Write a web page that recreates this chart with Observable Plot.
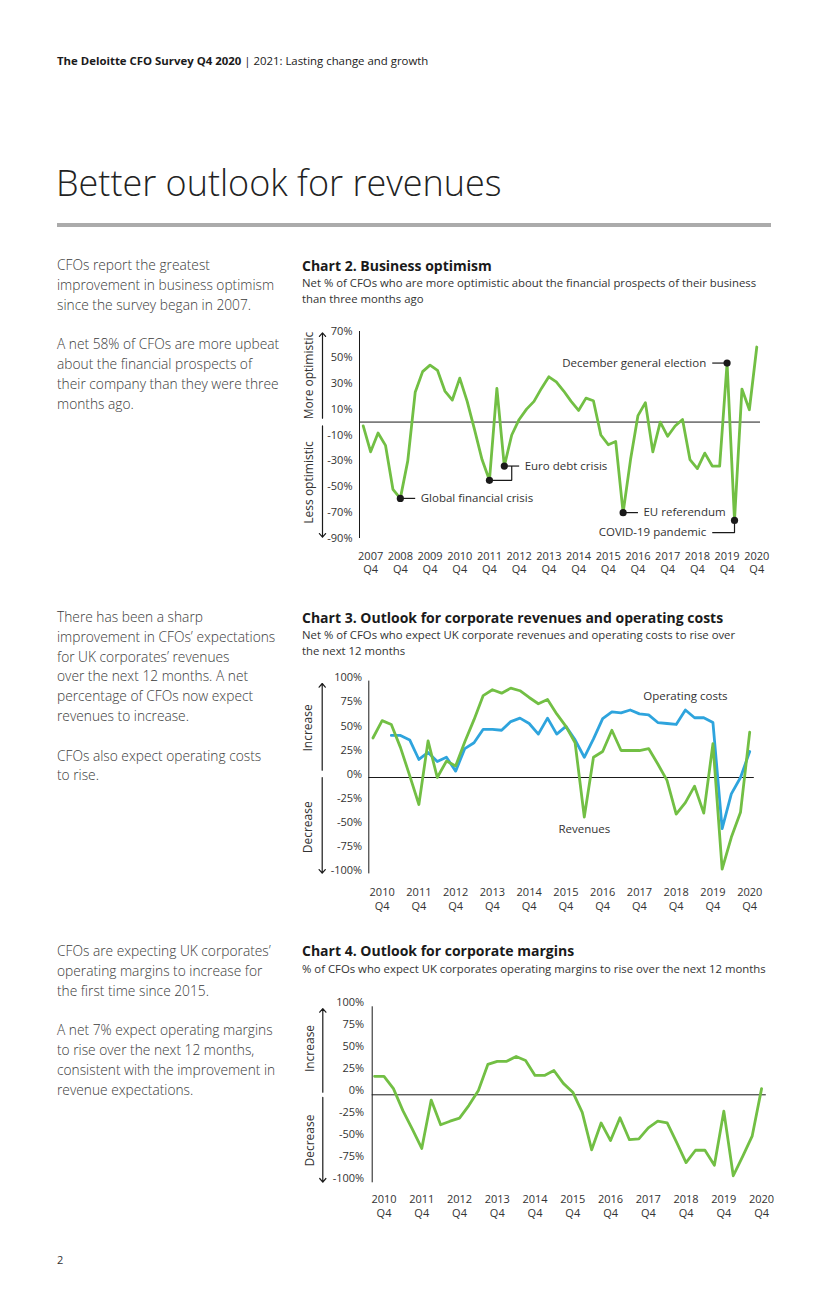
<!DOCTYPE html>
<html lang="en">
<head>
<meta charset="utf-8">
<title>Better outlook for revenues</title>
<script src="https://cdn.jsdelivr.net/npm/d3@7"></script>
<script src="https://cdn.jsdelivr.net/npm/@observablehq/plot@0.6"></script>
<style>
html,body{margin:0;padding:0;background:#fff;}
#page{position:relative;width:827px;height:1290px;overflow:hidden;font-family:"Open Sans",sans-serif;color:#333;}
.a{position:absolute;white-space:nowrap;}
.hdr{left:57px;top:53px;font-size:11.4px;line-height:16px;color:#1a1a1a;}
.hdr b{font-weight:700;}
.title{left:56px;top:161px;font-size:36px;font-weight:300;line-height:44px;color:#222;}
.rule{position:absolute;left:57px;top:223px;width:714px;height:3.5px;background:#ababab;}
.body{left:57px;font-size:13.75px;line-height:19.8px;font-weight:300;color:#3a3a3a;}
.ct{left:302px;font-size:14px;font-weight:700;color:#1a1a1a;line-height:18px;}
.cs{left:302px;font-size:11.35px;line-height:16px;color:#333;}
.chart{position:absolute;left:300px;}
.pg{left:57px;top:1252px;font-size:11px;line-height:16px;color:#333;}
</style>
</head>
<body>
<div id="page">
  <div class="a hdr"><b>The Deloitte CFO Survey Q4 2020</b> | 2021: Lasting change and growth</div>
  <div class="a title">Better outlook for revenues</div>
  <div class="rule"></div>

  <div class="a body" style="top:255px">CFOs report the greatest<br>improvement in business optimism<br>since the survey began in 2007.<br><br>A net 58% of CFOs are more upbeat<br>about the financial prospects of<br>their company than they were three<br>months ago.</div>
  <div class="a body" style="top:607px">There has been a sharp<br>improvement in CFOs’ expectations<br>for UK corporates’ revenues<br>over the next 12 months. A net<br>percentage of CFOs now expect<br>revenues to increase.<br><br>CFOs also expect operating costs<br>to rise.</div>
  <div class="a body" style="top:941px">CFOs are expecting UK corporates’<br>operating margins to increase for<br>the first time since 2015.<br><br>A net 7% expect operating margins<br>to rise over the next 12 months,<br>consistent with the improvement in<br>revenue expectations.</div>

  <div class="a ct" style="top:257px">Chart 2. Business optimism</div>
  <div class="a cs" style="top:275px">Net % of CFOs who are more optimistic about the financial prospects of their business<br>than three months ago</div>
  <div class="chart" id="c2" style="top:320px"></div>

  <div class="a ct" style="top:609px">Chart 3. Outlook for corporate revenues and operating costs</div>
  <div class="a cs" style="top:627px">Net % of CFOs who expect UK corporate revenues and operating costs to rise over<br>the next 12 months</div>
  <div class="chart" id="c3" style="top:670px"></div>

  <div class="a ct" style="top:942px">Chart 4. Outlook for corporate margins</div>
  <div class="a cs" style="top:961px">% of CFOs who expect UK corporates operating margins to rise over the next 12 months</div>
  <div class="chart" id="c4" style="top:990px"></div>

  <div class="a pg">2</div>
</div>
<script>
// ---------- DATA ----------
// Chart 2: business optimism, quarterly from 2007 Q3 to 2020 Q4 (net %)
const optimismStart = [2007, 3];
const optimism = [-3,-23,-8.5,-18,-52,-59,-30,23,39,44,
                  40,24,17,34,16,-6,-29,-45,26,-34,
                  -10,2,10,16,26,35,31,24,16,9,
                  18.5,16.5,-10,-17.5,-15,-70,-29,5,15,-23,
                  0,-11,-3,2,-29,-36,-24,-34,-34,45.6,
                  -76,25.5,9.5,58];
const optimismTicks = [70,50,30,10,-10,-30,-50,-70,-90];
const optimismEvents = [
  {label: "Global financial crisis", dots: [5], path: [[5,"v"],[7,"v"]], at: 7, anchor: "start"},
  {label: "Euro debt crisis", dots: [17,19], path: [[17,"v17"],[20,"v17"],[20,"v19"]], path2: [[19,"v"],[21,"v"]], at: 21, anchor: "start"},
  {label: "EU referendum", dots: [35], path: [[35,"v"],[37,"v"]], at: 37, anchor: "start"},
  {label: "December general election", dots: [49], path: [[47,"v"],[49,"v"]], at: 47, anchor: "end"},
  {label: "COVID-19 pandemic", dots: [50], path: [[50,"v"],[50,-85.5],[47,-85.5]], at: 47, anchor: "end", labelY: -85.5}
];

// Chart 3: revenues and operating costs, quarterly from 2010 Q3 to 2020 Q4 (net %)
const outlookStart = [2010, 3];
const revenues = [41,59,55,31,2,-28,38,0,17,12,
                  37,60,85,91,87.5,92.7,90,83,76.5,81,
                  66,53,36,-41,21,27,49,28,28,28,
                  30,14,-3,-38,-26,-9,-37,35,-95,-62,
                  -36,47];
const operatingCosts = [null,null,43.6,43.6,39,18.7,26,16.6,21,6.6,
                  30,36,50,50,49,58,61.6,56,45,61.6,
                  45,53,39,21,40,61,68,67,70,66,
                  65,57,56,55,70,62,62,57,-53,-17,
                  0,27];
// Chart 4: operating margins, quarterly from 2010 Q3 to 2020 Q4 (net %)
const margins = [21,21,7,-18,-39,-61,-6,-34,-30,-26.5,
                 -12,5,34.5,38,38,43.6,39,22,22,27.6,
                 13,3,-20,-62.5,-32,-52,-26,-51,-50,-37.5,
                 -30,-32,-54,-77,-63,-63,-80,-18.6,-92,-70,
                 -47,7];
const pctTicks = [100,75,50,25,0,-25,-50,-75,-100];

const GREEN = "#72bf44", BLUE = "#2ea4dd", INK = "#1a1a1a", TXT = "#333";

// ---------- HELPERS ----------
function quarterLabels([y0, q0], n) {
  return Array.from({length: n}, (_, i) => {
    const k = q0 - 1 + i;
    return {year: y0 + Math.floor(k / 4), q: (k % 4) + 1};
  });
}
function q4Ticks(qs) { return qs.map((d, i) => d.q === 4 ? i : null).filter(d => d !== null); }
const baseStyle = {fontFamily: "'Open Sans', sans-serif", fontSize: "11px", color: TXT, background: "transparent", overflow: "visible"};

function sideMarks(x0, arrows, labels, arrowDx, labelDx) {
  return [
    Plot.arrow(arrows, {x1: () => x0, x2: () => x0, y1: "y1", y2: "y2", dx: arrowDx, stroke: INK, strokeWidth: 1.2, headLength: 6, headAngle: 80}),
    Plot.text(labels, {x: () => x0, y: "y", text: "t", rotate: -90, dx: labelDx, fontSize: 12, fill: TXT})
  ];
}

// ---------- CHART 2 ----------
{
  const qs = quarterLabels(optimismStart, optimism.length);
  const data = optimism.map((v, i) => ({i, v}));
  const x0 = -0.5;
  const resolve = (pt, q) => [pt[0], pt[1] === "v" ? optimism[q] : (typeof pt[1] === "string" ? optimism[+pt[1].slice(1)] : pt[1])];
  const paths = [];
  optimismEvents.forEach((e, k) => {
    const q = e.dots[e.dots.length - 1];
    e.path.forEach(p => { const [x, y] = resolve(p, e.dots[0]); paths.push({x, y, g: k + "a"}); });
    if (e.path2) e.path2.forEach(p => { const [x, y] = resolve(p, q); paths.push({x, y, g: k + "b"}); });
  });
  const dots = optimismEvents.flatMap(e => e.dots.map(q => ({x: q, y: optimism[q]})));
  const labels = optimismEvents.map(e => ({x: e.at, y: e.labelY ?? optimism[e.dots[e.dots.length - 1]], t: e.label, anchor: e.anchor}));

  const chart = Plot.plot({
    width: 470, height: 262,
    marginLeft: 59, marginRight: 10, marginTop: 11, marginBottom: 44,
    x: {domain: [x0, optimism.length - 0.5], label: null},
    y: {domain: [-90, 70], label: null},
    style: baseStyle,
    marks: [
      Plot.ruleY([0], {stroke: INK, strokeWidth: 1}),
      Plot.ruleX([x0], {y1: -90, y2: 70, stroke: INK, strokeWidth: 1}),
      Plot.axisY({ticks: optimismTicks, tickFormat: d => d + "%", tickSize: 0, tickPadding: 7, label: null, fontSize: 11}),
      Plot.axisX({ticks: q4Ticks(qs), tickFormat: i => `${qs[i].year}\nQ${qs[i].q}`, tickSize: 0, tickPadding: 12, label: null, lineHeight: 1.22, fontSize: 11}),
      ...sideMarks(x0, [{y1: 3, y2: 69}, {y1: -3, y2: -89}], [{y: 36, t: "More optimistic"}, {y: -46.7, t: "Less optimistic"}], -37, -50),
      Plot.line(data, {x: "i", y: "v", stroke: GREEN, strokeWidth: 2.8}),
      Plot.line(paths, {x: "x", y: "y", z: "g", stroke: INK, strokeWidth: 1.2, curve: "linear", strokeLinejoin: "miter", strokeLinecap: "butt"}),
      Plot.dot(dots, {x: "x", y: "y", r: 3.6, fill: INK}),
      Plot.text(labels.filter(d => d.anchor === "start"), {x: "x", y: "y", text: "t", textAnchor: "start", dx: 5.5, fontSize: 11.5, fill: TXT}),
      Plot.text(labels.filter(d => d.anchor === "end"), {x: "x", y: "y", text: "t", textAnchor: "end", dx: -6, fontSize: 11.5, fill: TXT})
    ]
  });
  document.getElementById("c2").append(chart);
}

// ---------- CHART 3 ----------
{
  const qs = quarterLabels(outlookStart, revenues.length);
  const rev = revenues.map((v, i) => ({i, v}));
  const cost = operatingCosts.map((v, i) => ({i, v}));
  const x0 = -0.45;
  const seriesLabels = [{x: 34, y: 84, t: "Operating costs"}, {x: 23, y: -54, t: "Revenues"}];
  const chart = Plot.plot({
    width: 470, height: 245,
    marginLeft: 68.3, marginRight: 16.2, marginTop: 10.6, marginBottom: 41.6,
    x: {domain: [x0, 41.5], label: null},
    y: {domain: [-100, 100], label: null},
    style: baseStyle,
    marks: [
      Plot.ruleY([0], {stroke: INK, strokeWidth: 1}),
      Plot.ruleX([x0], {y1: -100, y2: 100, stroke: INK, strokeWidth: 1}),
      Plot.axisY({ticks: pctTicks, tickFormat: d => d + "%", tickSize: 0, tickPadding: 6.6, dy: -3.3, label: null, fontSize: 11}),
      Plot.axisX({ticks: q4Ticks(qs), tickFormat: i => `${qs[i].year}\nQ${qs[i].q}`, tickSize: 0, tickPadding: 12, label: null, lineHeight: 1.27, fontSize: 11}),
      ...sideMarks(x0, [{y1: 7.5, y2: 97.5}, {y1: 0, y2: -99.3}], [{y: 51.4, t: "Increase"}, {y: -51.6, t: "Decrease"}], -46.6, -60.3),
      Plot.line(cost, {x: "i", y: "v", stroke: BLUE, strokeWidth: 2.8}),
      Plot.line(rev, {x: "i", y: "v", stroke: GREEN, strokeWidth: 2.8}),
      Plot.text(seriesLabels, {x: "x", y: "y", text: "t", fontSize: 11.5, fill: TXT})
    ]
  });
  document.getElementById("c3").append(chart);
}

// ---------- CHART 4 ----------
{
  const qs = quarterLabels(outlookStart, margins.length);
  const data = margins.map((v, i) => ({i, v}));
  const x0 = -0.25;
  const chart = Plot.plot({
    width: 470, height: 230,
    marginLeft: 71.7, marginRight: 4.2, marginTop: 16.3, marginBottom: 37.7,
    x: {domain: [x0, 41.5], label: null},
    y: {domain: [-100, 100], label: null},
    style: baseStyle,
    marks: [
      Plot.ruleY([0], {stroke: INK, strokeWidth: 1}),
      Plot.ruleX([x0], {y1: -100, y2: 100, stroke: INK, strokeWidth: 1}),
      Plot.axisY({ticks: pctTicks, tickFormat: d => d + "%", tickSize: 0, tickPadding: 8, dy: -4, label: null, fontSize: 11}),
      Plot.axisX({ticks: q4Ticks(qs), tickFormat: i => `${qs[i].year}\nQ${qs[i].q}`, tickSize: 0, tickPadding: 11, label: null, lineHeight: 1.22, fontSize: 11}),
      ...sideMarks(x0, [{y1: 3, y2: 98}, {y1: -3, y2: -99.3}], [{y: 52.6, t: "Increase"}, {y: -52, t: "Decrease"}], -49.4, -62.4),
      Plot.line(data, {x: "i", y: "v", stroke: GREEN, strokeWidth: 2.8})
    ]
  });
  document.getElementById("c4").append(chart);
}
</script>
</body>
</html>
